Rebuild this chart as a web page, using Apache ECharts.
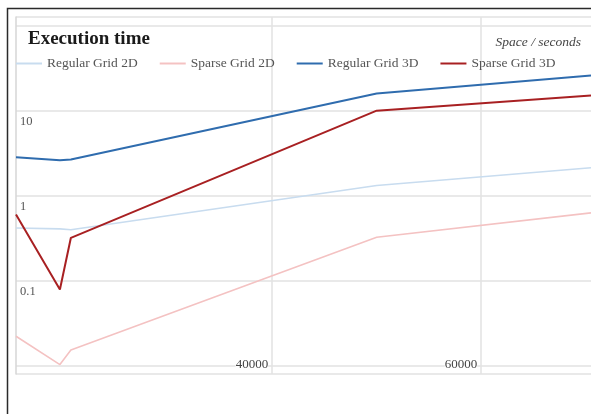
<!DOCTYPE html>
<html>
<head>
<meta charset="utf-8">
<script src="https://cdn.jsdelivr.net/npm/echarts@6/dist/echarts.min.js"></script>
<style>
  html, body { margin: 0; padding: 0; background: #fff; }
  #chart { width: 591px; height: 414px; }
</style>
</head>
<body>
<div id="chart"></div>
<script>
// Problem size (x) and execution time in seconds (y, log scale)
const sizes = [15500, 19700, 20750, 50000, 70500];
const regularGrid2D = [0.42, 0.41, 0.40, 1.33, 2.15];
const sparseGrid2D = [0.0224, 0.0104, 0.0154, 0.327, 0.634];
const regularGrid3D = [2.86, 2.64, 2.69, 16.1, 26.2];
const sparseGrid3D = [0.606, 0.0794, 0.322, 10.1, 15.2];

const xTickValues = [40000, 60000];
const yLabelValues = [0.1, 1, 10];

const FONT = '"Liberation Serif", "Times New Roman", serif';

function pairs(ys) {
  return sizes.map((x, i) => [x, ys[i]]);
}

function makeSeries(name, ys, color, width) {
  return {
    name: name,
    type: 'line',
    data: pairs(ys),
    showSymbol: false,
    symbol: 'none',
    color: color,
    lineStyle: { color: color, width: width },
    animation: false
  };
}

const chart = echarts.init(document.getElementById('chart'), null, { renderer: 'canvas' });

chart.setOption({
  backgroundColor: '#fff',
  animation: false,
  title: [
    {
      text: 'Execution time',
      left: 28,
      top: 30,
      padding: 0,
      textStyle: { fontFamily: FONT, fontWeight: 'bold', fontSize: 19, color: '#1a1a1a' }
    },
    {
      text: 'Space / seconds',
      right: 10,
      top: 35,
      padding: 0,
      textStyle: { fontFamily: FONT, fontStyle: 'italic', fontWeight: 'normal', fontSize: 13.5, color: '#444' }
    }
  ],
  legend: {
    left: 16,
    top: 56.5,
    padding: 0,
    itemGap: 22,
    itemWidth: 26,
    itemHeight: 2,
    icon: 'rect',
    textStyle: { fontFamily: FONT, fontSize: 13.5, color: '#555' },
    data: ['Regular Grid 2D', 'Sparse Grid 2D', 'Regular Grid 3D', 'Sparse Grid 3D']
  },
  grid: { left: 16, right: 0, top: 17, bottom: 40, containLabel: false },
  xAxis: {
    type: 'value',
    min: 15500,
    max: 70500,
    axisLine: { show: false },
    axisTick: { show: false, customValues: xTickValues },
    splitLine: { show: true, lineStyle: { color: '#e2e2e2', width: 1.5 } },
    axisLabel: {
      show: true,
      customValues: xTickValues,
      inside: true,
      margin: 9,
      align: 'right',
      verticalAlign: 'middle',
      padding: [0, 4, 0, 0],
      formatter: v => '{t|' + v + '}',
      rich: {
        t: { fontFamily: FONT, fontSize: 13, color: '#444', backgroundColor: '#fff' }
      }
    }
  },
  yAxis: {
    type: 'log',
    logBase: 10,
    min: 0.008052,
    max: 127.6,
    axisLine: { show: true, lineStyle: { color: '#d6d6d6', width: 1.5 } },
    axisTick: { show: false },
    splitLine: { show: true, lineStyle: { color: '#e2e2e2', width: 1.5 } },
    axisLabel: {
      inside: true,
      margin: 4,
      align: 'left',
      verticalAlign: 'top',
      padding: [5, 0, 0, 0],
      lineHeight: 12,
      fontFamily: FONT,
      fontSize: 12.5,
      color: '#555',
      formatter: function (v) {
        for (const t of yLabelValues) {
          if (Math.abs(v - t) / t < 1e-6) return String(t);
        }
        return '';
      }
    }
  },
  graphic: [
    {
      type: 'rect',
      silent: true,
      z: 100,
      shape: { x: 7.5, y: 8.5, width: 700, height: 500 },
      style: { fill: 'none', stroke: '#2a2a2a', lineWidth: 1.5 }
    }
  ],
  series: [
    makeSeries('Regular Grid 2D', regularGrid2D, '#c8dcef', 1.6),
    makeSeries('Sparse Grid 2D', sparseGrid2D, '#f4c2c2', 1.6),
    makeSeries('Regular Grid 3D', regularGrid3D, '#2f6cae', 2),
    makeSeries('Sparse Grid 3D', sparseGrid3D, '#a82022', 2)
  ]
});
</script>
</body>
</html>
